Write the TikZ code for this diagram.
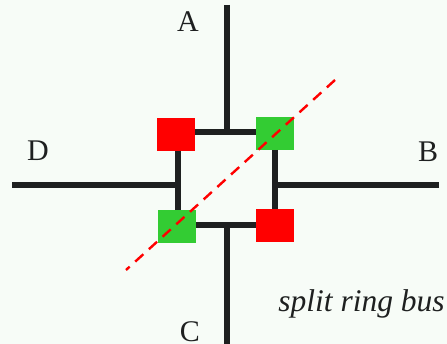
\documentclass[tikz,border=0pt]{standalone}
\usepackage{fontspec}
\setmainfont{Liberation Serif}
\usepackage{xcolor}
\usetikzlibrary{positioning}
\definecolor{wirecol}{HTML}{1E2020}
\definecolor{swgreen}{HTML}{33CC33}
\definecolor{swred}{HTML}{FF0000}
\definecolor{paper}{HTML}{F7FCF7}

\begin{document}
\begin{tikzpicture}[
  x=1pt, y=-1pt,
  wire/.style={draw=wirecol, line width=6pt},
  switchbox/.style={minimum width=38pt, minimum height=33pt, inner sep=0pt, outer sep=0pt},
  onsw/.style={switchbox, fill=swgreen},
  offsw/.style={switchbox, fill=swred},
  portlabel/.style={font=\fontsize{30}{30}\selectfont, text=wirecol, inner sep=0pt},
  splitline/.style={draw=swred, line width=2.4pt, dash pattern=on 11pt off 7.5pt}
]
\useasboundingbox[fill=paper] (0,0) rectangle (447,344);
% free ends of the four ports
\coordinate (endA) at (227,5);
\coordinate (endB) at (439,185.5);
\coordinate (endC) at (227,344);
\coordinate (endD) at (12,185);
% where the ports meet the ring
\coordinate (joinA) at (227,132);
\coordinate (joinB) at (275,185.5);
\coordinate (joinC) at (227,225);
\coordinate (joinD) at (178,185);
\draw[wire] (endA) -- (joinA);
\draw[wire] (endB) -- (joinB);
\draw[wire] (endC) -- (joinC);
\draw[wire] (endD) -- (joinD);
% ring switches
\node[offsw] (swTL) at (176,134.5) {};
\node[onsw]  (swTR) at (275,133.5) {};
\node[onsw]  (swBL) at (177,226.5) {};
\node[offsw] (swBR) at (275,225.5) {};
\draw[wire] (swTL.east |- joinA) -- (swTR.west |- joinA);
\draw[wire] (swBL.east |- joinC) -- (swBR.west |- joinC);
\draw[wire] (swTL.south -| joinD) -- (swBL.north -| joinD);
\draw[wire] (swTR.south -| joinB) -- (swBR.north -| joinB);
% split line
\coordinate (splitS) at (126,270);
\coordinate (splitN) at (335,80);
\draw[splitline] (splitN) -- (splitS);
\node[portlabel] (lblA) at (188,21.5) {A};
\node[portlabel] (lblB) at (428,152) {B};
\node[portlabel] (lblC) at (190,331.5) {C};
\node[portlabel] (lblD) at (38,151) {D};
\node[portlabel, font=\fontsize{31.5}{31.5}\selectfont\itshape] (lblBus) at (361.5,304) {split ring bus};
\end{tikzpicture}
\end{document}
